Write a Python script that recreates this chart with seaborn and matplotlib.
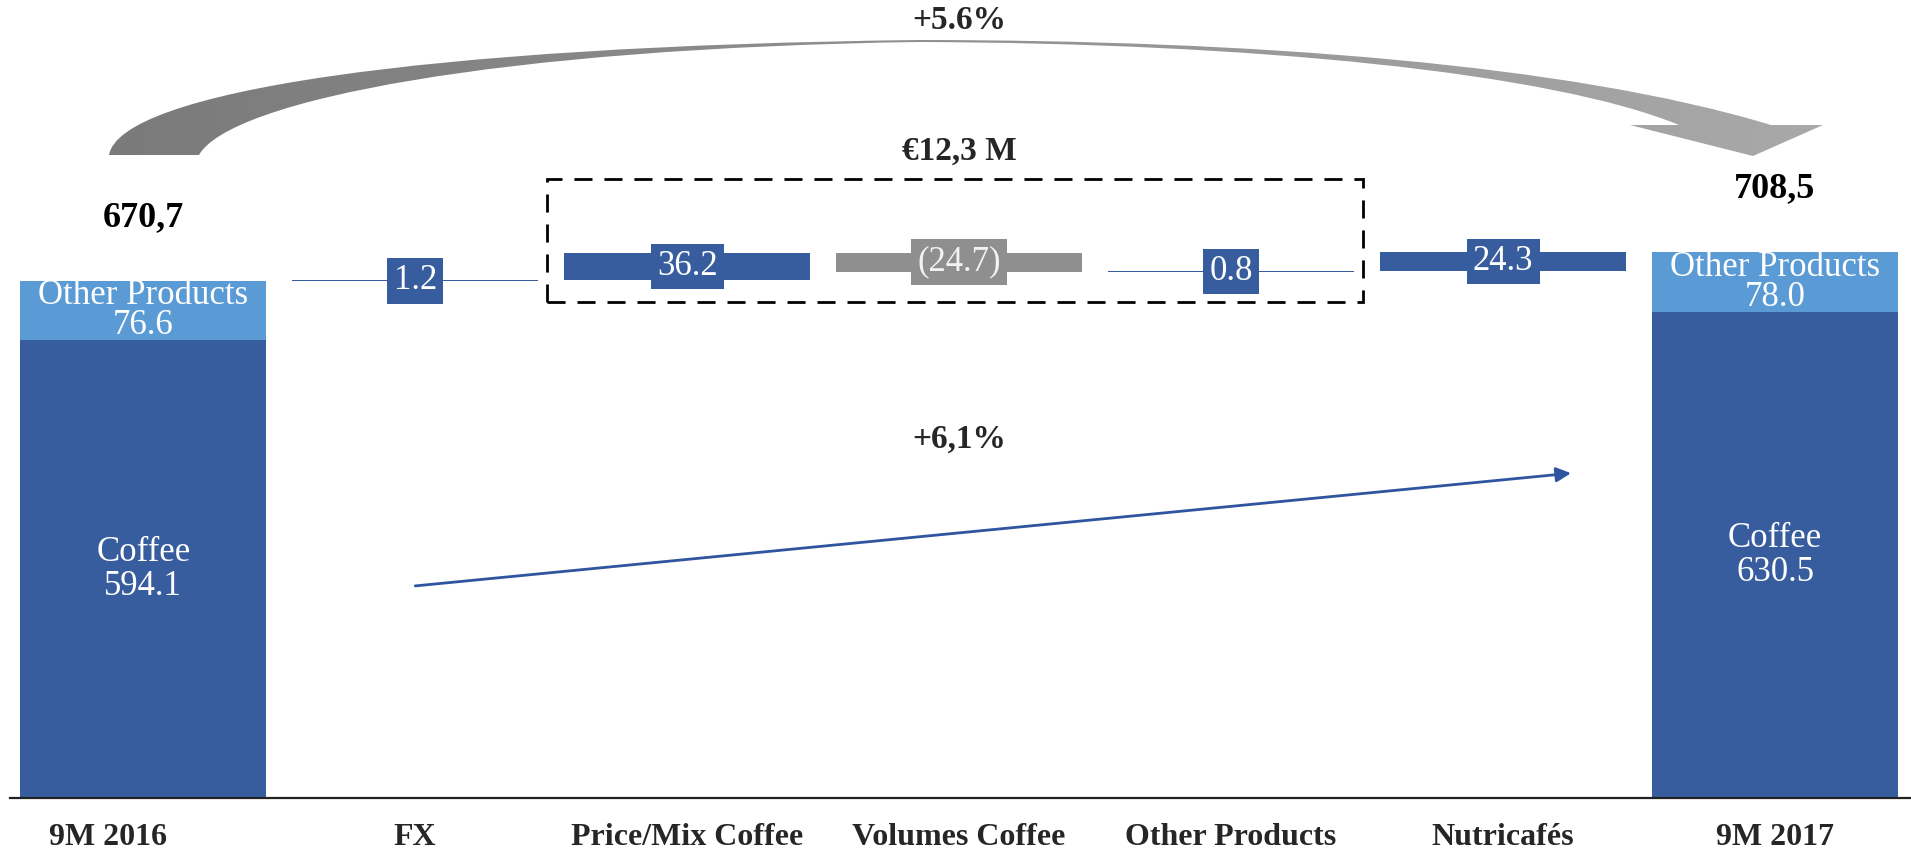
import matplotlib
matplotlib.use("Agg")
import matplotlib.pyplot as plt
import matplotlib.transforms as mtransforms
import seaborn as sns
import numpy as np
import pandas as pd
from matplotlib.path import Path
from matplotlib.patches import PathPatch, Rectangle
from matplotlib.colors import LinearSegmentedColormap

# data
categories = ["9M 2016", "FX", "Price/Mix Coffee", "Volumes Coffee",
              "Other Products", "Nutricafés", "9M 2017"]
coffee = [594.1, 630.5]
other_products = [76.6, 78.0]
totals = [670.7, 708.5]
deltas = [1.2, 36.2, -24.7, 0.8, 24.3]
delta_labels = ["1.2", "36.2", "(24.7)", "0.8", "24.3"]
total_labels = ["670,7", "708,5"]
group_label = "€12,3 M"
total_growth = "+5.6%"
coffee_growth = "+6,1%"

DARK = "#375D9F"
LIGHT = "#5B9BD5"
GREY = "#8F8F8F"

sns.set_theme(style="white")
plt.rcParams["font.family"] = ["Liberation Serif", "DejaVu Serif"]

fig = plt.figure(figsize=(19.11, 8.49), dpi=100)
fig.patch.set_facecolor("white")
ax = fig.add_axes([10 / 1911, 51 / 849, 1 - 10 / 1911, 798 / 849])
ax.patch.set_alpha(0)

width = 0.906
total_pos = [0, len(categories) - 1]

# coffee base of the two totals
df = pd.DataFrame({"cat": categories,
                   "coffee": [coffee[0]] + [np.nan] * 5 + [coffee[1]]})
sns.barplot(data=df, x="cat", y="coffee", order=categories, color=DARK,
            width=width, saturation=1, linewidth=0, ax=ax)
ax.bar(total_pos, other_products, bottom=coffee, width=width, color=LIGHT, linewidth=0)

# floating bridge bars
starts = np.concatenate([[totals[0]], totals[0] + np.cumsum(deltas)[:-1]])
delta_x = np.arange(1, len(categories) - 1)
colors = [DARK if d >= 0 else GREY for d in deltas]
ax.bar(delta_x, deltas, bottom=starts, width=width, color=colors, linewidth=0)

for x, s, d, lab, c in zip(delta_x, starts, deltas, delta_labels, colors):
    ax.text(x, s + d / 2, lab, ha="center", va="center", fontsize=25,
            color="white" if d >= 0 else "#F2F2F2",
            bbox=dict(boxstyle="square,pad=0.18", fc=c, ec="none"))

# segment labels inside totals
for x, c, o in zip(total_pos, coffee, other_products):
    ax.text(x, c / 2, f"Coffee\n{c:.1f}", ha="center", va="center",
            fontsize=25, color="white", linespacing=1.05)
    ax.text(x, c + o / 2, f"Other Products\n{o:.1f}", ha="center", va="center",
            fontsize=25, color="white", linespacing=0.88)

for x, t, lab in zip(total_pos, totals, total_labels):
    ax.annotate(lab, (x, t), xytext=(0, 46), textcoords="offset points",
                ha="center", va="center", fontsize=26, fontweight="bold", color="black")

# dashed box around the coffee / other products drivers
ax.add_patch(Rectangle((1.485, 644), 3.0, 160, fill=False, ec="black", lw=2,
                       linestyle=(0, (6.5, 4.3)), zorder=3))
ax.text(3, 839, group_label, ha="center", va="center", fontsize=24, fontweight="bold")

# coffee growth arrow
ax.annotate("", xy=(5.26, 422), xytext=(0.99, 275),
            arrowprops=dict(arrowstyle="-|>", color="#2F55A0", lw=2, mutation_scale=22))
ax.text(3, 466, coffee_growth, ha="center", va="center", fontsize=24, fontweight="bold")
ax.text(3, 1009, total_growth, ha="center", va="center", fontsize=24, fontweight="bold")

ax.set_xlim(-0.49, 6.5)
ax.set_ylim(0, 1036)
ax.set_yticks([])
ax.set_xlabel("")
ax.set_ylabel("")
ax.set_xticks(range(len(categories)))
ax.set_xticklabels(categories, fontsize=23, fontweight="bold")
ax.tick_params(axis="x", length=0, pad=18)
lbl = ax.get_xticklabels()[0]
lbl.set_transform(lbl.get_transform() + mtransforms.ScaledTranslation(-0.35, 0, fig.dpi_scale_trans))
for s in ["top", "left", "right"]:
    ax.spines[s].set_visible(False)
ax.spines["bottom"].set_color("#222222")
ax.spines["bottom"].set_linewidth(1.6)

# big curved grey arrow (decoration, in figure pixels)
over = fig.add_axes([0, 0, 1, 1])
over.patch.set_alpha(0)
verts = [(109, 155), (120, 92), (420, 46), (918, 40),
         (1250, 40), (1570, 64), (1771, 125),
         (1823, 125), (1753, 156), (1630, 125), (1679, 125),
         (1550, 72), (1250, 43), (918, 42),
         (500, 48), (230, 100), (199, 155),
         (109, 155)]
codes = [Path.MOVETO, Path.CURVE4, Path.CURVE4, Path.CURVE4,
         Path.CURVE4, Path.CURVE4, Path.CURVE4,
         Path.LINETO, Path.LINETO, Path.LINETO, Path.LINETO,
         Path.CURVE4, Path.CURVE4, Path.CURVE4,
         Path.CURVE4, Path.CURVE4, Path.CURVE4,
         Path.CLOSEPOLY]
patch = PathPatch(Path(verts, codes), fc="none", ec="none")
over.add_patch(patch)
grad = np.linspace(0, 1, 256).reshape(1, -1)
cmap = LinearSegmentedColormap.from_list("arrowgrey", ["#7A7A7A", "#A9A9A9"])
im = over.imshow(grad, cmap=cmap, extent=(100, 1830, 160, 30), aspect="auto")
im.set_clip_path(patch)
over.set_xlim(0, 1911)
over.set_ylim(849, 0)
over.axis("off")

fig.savefig("out.png", dpi=100)
